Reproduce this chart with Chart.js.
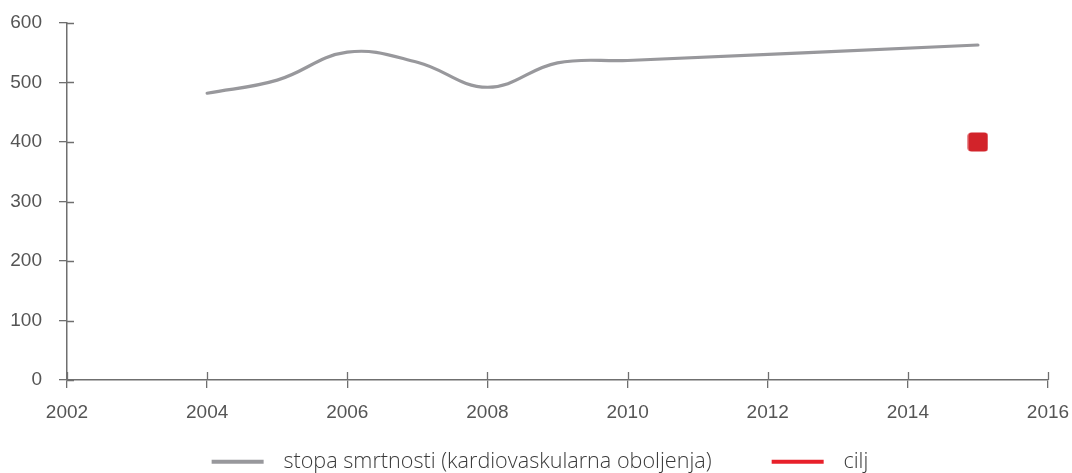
<!DOCTYPE html>
<html>
<head>
<meta charset="utf-8">
<script src="https://cdn.jsdelivr.net/npm/chart.js@4/dist/chart.umd.min.js"></script>
<style>
  html, body { margin: 0; padding: 0; background: #fff; }
  #wrap { width: 1072px; height: 473px; position: relative; }
</style>
</head>
<body>
<div id="wrap"><canvas id="c" width="1072" height="473"></canvas></div>
<script>
const years = [2004, 2005, 2006, 2007, 2008, 2009, 2010, 2015];
const rateValues = [482, 504, 551, 534, 492, 533, 537, 563];
const targetYears = [2015];
const targetValues = [400];
const xTickMin = 2002, xTickMax = 2016, xTickStep = 2;
const yTickMin = 0, yTickMax = 600, yTickStep = 100;
const seriesLabels = ['stopa smrtnosti (kardiovaskularna oboljenja)', 'cilj'];
const legendColors = ['#98989c', '#e8202a'];

const AXIS = '#6f6f6f';
const TICKTXT = '#555555';
const LEGEND_PAD = 60;
const LEGEND_TOP = 391;
const LEGEND_SHIFT_X = 16;
const LEGEND_FIT_HEIGHT = 43;

// rounded square marker
const marker = document.createElement('canvas');
marker.width = 21; marker.height = 20;
(function(){
  const g = marker.getContext('2d');
  g.fillStyle = '#d2232a';
  g.beginPath();
  if (g.roundRect) g.roundRect(0.5, 0.5, 20, 19, 3.5); else g.rect(0.5,0.5,20,19);
  g.fill();
})();

const innerTicks = {
  id: 'innerTicks',
  afterDraw(chart) {
    const ctx = chart.ctx;
    const xs = chart.scales.x, ys = chart.scales.y;
    ctx.save();
    ctx.strokeStyle = AXIS;
    ctx.lineWidth = 1.3;
    ctx.beginPath();
    xs.ticks.forEach(t => {
      const px = Math.round(xs.getPixelForValue(t.value)) + 0.5;
      ctx.moveTo(px, xs.top);
      ctx.lineTo(px, xs.top - 8);
    });
    ys.ticks.forEach(t => {
      const py = Math.round(ys.getPixelForValue(t.value)) + 0.5;
      ctx.moveTo(ys.right, py);
      ctx.lineTo(ys.right + 7, py);
    });
    ctx.stroke();
    ctx.restore();
  }
};

const legendPlace = {
  id: 'legendPlace',
  beforeLayout(chart) {
    const lg = chart.legend;
    if (lg && !lg._patchedFit) {
      const orig = lg.fit.bind(lg);
      lg.fit = function() { orig(); this.height = LEGEND_FIT_HEIGHT; };
      lg._patchedFit = true;
    }
  },
  afterLayout(chart) {
    const lg = chart.legend;
    if (lg) {
      lg.top = LEGEND_TOP;
      lg.bottom = chart.height;
      lg.height = lg.bottom - lg.top;
      lg.left += LEGEND_SHIFT_X;
      lg.right += LEGEND_SHIFT_X;
    }
  }
};

new Chart(document.getElementById('c'), {
  type: 'line',
  data: {
    datasets: [
      {
        label: seriesLabels[0],
        data: years.map((y, i) => ({ x: y, y: rateValues[i] })),
        borderColor: '#98989c',
        backgroundColor: '#98989c',
        borderWidth: 3.2,
        tension: 0.4,
        pointRadius: 0,
        borderCapStyle: 'round',
        fill: false
      },
      {
        label: seriesLabels[1],
        data: targetYears.map((y, i) => ({ x: y, y: targetValues[i] })),
        borderColor: '#e32028',
        backgroundColor: '#e32028',
        showLine: false,
        pointStyle: marker,
        pointRadius: 10,
        pointHoverRadius: 10
      }
    ]
  },
  options: {
    responsive: false,
    animation: false,
    events: [],
    layout: { padding: { top: 23, right: 24, left: 0, bottom: 0 } },
    scales: {
      x: {
        type: 'linear',
        min: xTickMin, max: xTickMax,
        afterFit: s => { s.height = 50; s.paddingLeft = 0; s.paddingRight = 0; },
        ticks: {
          stepSize: xTickStep,
          color: TICKTXT,
          font: { family: 'Liberation Sans, Arial, sans-serif', size: 19 },
          padding: 13,
          callback: v => String(v)
        },
        grid: { drawOnChartArea: false, tickLength: 8, color: AXIS, lineWidth: 1.3 },
        border: { color: AXIS, width: 1.5 }
      },
      y: {
        min: yTickMin, max: yTickMax,
        afterFit: s => { s.width = 67; s.paddingTop = 0; s.paddingBottom = 0; },
        ticks: {
          stepSize: yTickStep,
          color: TICKTXT,
          font: { family: 'Liberation Sans, Arial, sans-serif', size: 19 },
          padding: 17,
          callback: v => String(v)
        },
        grid: { drawOnChartArea: false, tickLength: 8, color: AXIS, lineWidth: 1.3 },
        border: { color: AXIS, width: 1.5 }
      }
    },
    plugins: {
      tooltip: { enabled: false },
      legend: {
        position: 'bottom',
        labels: {
          boxWidth: 61,
          boxHeight: 0.01,
          padding: LEGEND_PAD,
          color: '#3a3a3a',
          font: { family: 'Open Sans, sans-serif', size: 21.6, weight: '300' },
          generateLabels(chart) {
            return chart.data.datasets.map((d, i) => ({
              text: d.label,
              fillStyle: 'rgba(0,0,0,0)',
              strokeStyle: legendColors[i],
              lineWidth: 4,
              lineDash: [52, 600],
              lineCap: 'butt',
              fontColor: '#3a3a3a',
              datasetIndex: i,
              hidden: false
            }));
          }
        }
      }
    }
  },
  plugins: [innerTicks, legendPlace]
});
</script>
</body>
</html>
